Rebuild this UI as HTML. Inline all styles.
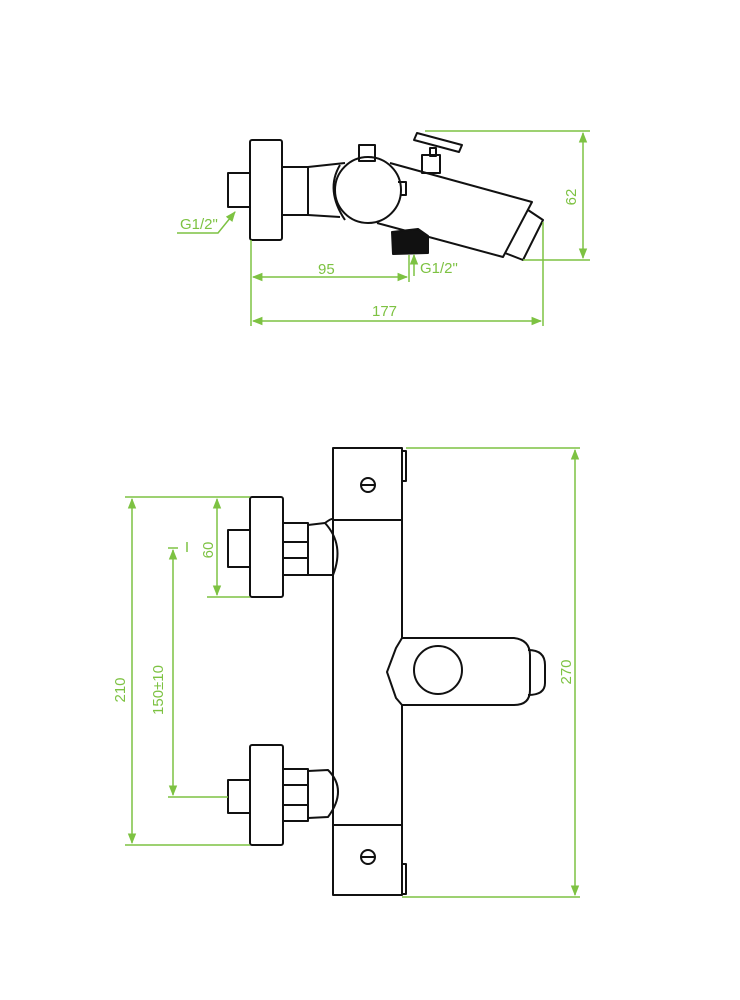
<!DOCTYPE html>
<html><head><meta charset="utf-8"><style>
html,body{margin:0;padding:0;background:#fff;}
svg{display:block}
text{font-family:"Liberation Sans",sans-serif;fill:#7dc242;font-size:15px}
</style></head><body>
<svg width="740" height="1000" viewBox="0 0 740 1000" xmlns="http://www.w3.org/2000/svg">
<defs>
<marker id="a" viewBox="0 0 10 10" refX="9" refY="5" markerWidth="7" markerHeight="7" orient="auto-start-reverse"><path d="M0,1 L10,5 L0,9 z" fill="#7dc242"/></marker>
</defs>
<g fill="none" stroke="#111" stroke-width="2" stroke-linejoin="round">
<!-- TOP VIEW -->
<rect x="250" y="140" width="32" height="100" rx="2"/>
<rect x="228" y="173" width="22" height="34"/>
<path d="M282,167 L308,167 L308,215 L282,215"/>
<path d="M308,167 L345,163 M308,215 L340,217"/>
<path d="M340,165 Q325,190 345,220"/>
<circle cx="368" cy="190" r="33"/>
<rect x="359" y="145" width="16" height="16"/>
<path d="M398,182 L406,182 L406,195 L400,195"/>
<path d="M390,163 L532,202 L503,257 L377,223"/>
<path d="M528,210 L543,220 L523,260 L505,253"/>
<path d="M417,133 L462,145 L459,152 L414,140 Z"/>
<rect x="422" y="155" width="18" height="18"/>
<rect x="430" y="148" width="6" height="8"/>
<path d="M392,232 L418,229 L428,236 L428,253 L393,254 Z" fill="#111"/>
<!-- FRONT VIEW -->
<rect x="333" y="448" width="69" height="72"/>
<path d="M402,451 L406,451 L406,481 L402,481"/>
<circle cx="368" cy="485" r="7"/><line x1="361" y1="485" x2="375" y2="485"/>
<path d="M333,520 L333,825 M402,520 L402,638 M402,705 L402,825"/>
<rect x="333" y="825" width="69" height="70"/>
<path d="M402,864 L406,864 L406,894 L402,894"/>
<circle cx="368" cy="857" r="7"/><line x1="361" y1="857" x2="375" y2="857"/>
<!-- upper knob -->
<rect x="250" y="497" width="33" height="100" rx="2"/>
<rect x="228" y="530" width="22" height="37"/>
<rect x="283" y="523" width="25" height="52"/>
<line x1="283" y1="542" x2="308" y2="542"/><line x1="283" y1="558" x2="308" y2="558"/>
<path d="M308,525 L325,523 Q345,545 333,575 L308,575"/>
<path d="M325,523 Q333,517 333,520 M333,575 L333,580"/>
<!-- lower knob -->
<rect x="250" y="745" width="33" height="100" rx="2"/>
<rect x="228" y="780" width="22" height="33"/>
<rect x="283" y="769" width="25" height="52"/>
<line x1="283" y1="785" x2="308" y2="785"/><line x1="283" y1="805" x2="308" y2="805"/>
<path d="M308,771 L328,770 Q348,790 328,817 L308,818"/>
<!-- spout -->
<path d="M402,638 L514,638 Q530,640 530,655 L530,690 Q530,705 514,705 L402,705 L396,698 L387,672 L396,648 Z"/>
<path d="M528,650 Q545,650 545,665 L545,683 Q545,695 528,695"/>
<circle cx="438" cy="670" r="24"/>
</g>
<g stroke="#7dc242" stroke-width="1.5" fill="none">
<!-- top dims -->
<line x1="425" y1="131" x2="590" y2="131"/>
<line x1="523" y1="260" x2="590" y2="260"/>
<line x1="583" y1="133" x2="583" y2="258" marker-start="url(#a)" marker-end="url(#a)"/>
<line x1="251" y1="240" x2="251" y2="326"/>
<line x1="409" y1="255" x2="409" y2="282"/>
<line x1="543" y1="222" x2="543" y2="326"/>
<line x1="253" y1="277" x2="407" y2="277" marker-start="url(#a)" marker-end="url(#a)"/>
<line x1="253" y1="321" x2="541" y2="321" marker-start="url(#a)" marker-end="url(#a)"/>
<path d="M177,233 L218,233 L235,212" marker-end="url(#a)"/>
<line x1="414" y1="276" x2="414" y2="255" marker-end="url(#a)"/>
<!-- front dims -->
<line x1="406" y1="448" x2="580" y2="448"/>
<line x1="402" y1="897" x2="580" y2="897"/>
<line x1="575" y1="450" x2="575" y2="895" marker-start="url(#a)" marker-end="url(#a)"/>
<line x1="125" y1="497" x2="250" y2="497"/>
<line x1="125" y1="845" x2="250" y2="845"/>
<line x1="132" y1="499" x2="132" y2="843" marker-start="url(#a)" marker-end="url(#a)"/>
<line x1="217" y1="499" x2="217" y2="595" marker-start="url(#a)" marker-end="url(#a)"/>
<line x1="207" y1="597" x2="250" y2="597"/>
<line x1="168" y1="548" x2="178" y2="548"/>
<line x1="187" y1="542" x2="187" y2="552"/>
<line x1="173" y1="550" x2="173" y2="795" marker-start="url(#a)" marker-end="url(#a)"/>
<line x1="168" y1="797" x2="228" y2="797"/>
</g>
<text x="180" y="229">G1/2"</text>
<text x="420" y="273">G1/2"</text>
<text x="318" y="274">95</text>
<text x="372" y="316">177</text>
<text transform="translate(576,197) rotate(-90)" text-anchor="middle">62</text>
<text transform="translate(125,690) rotate(-90)" text-anchor="middle">210</text>
<text transform="translate(163,690) rotate(-90)" text-anchor="middle">150±10</text>
<text transform="translate(213,550) rotate(-90)" text-anchor="middle">60</text>
<text transform="translate(571,672) rotate(-90)" text-anchor="middle">270</text>
</svg>
</body></html>
